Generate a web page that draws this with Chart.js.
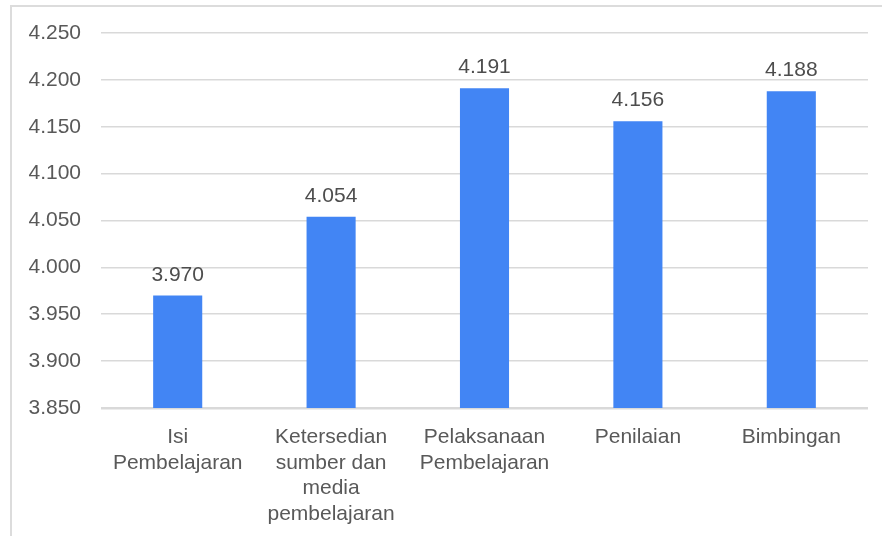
<!DOCTYPE html>
<html>
<head>
<meta charset="utf-8">
<script src="https://cdn.jsdelivr.net/npm/chart.js@4"></script>
<style>
  html, body { margin: 0; padding: 0; background: #fff; overflow: hidden; }
  #frame {
    position: absolute; left: 10px; top: 5px;
    width: 900px; height: 600px;
    border: 2px solid #dcdcdc;
  }
  #wrap { position: absolute; left: 0; top: 0; width: 882px; height: 536px; }
</style>
</head>
<body>
<div id="frame"></div>
<div id="wrap"><canvas id="chart" width="882" height="536"></canvas></div>
<script>
const categories = [
    ['Isi', 'Pembelajaran'],
    ['Ketersedian', 'sumber dan', 'media', 'pembelajaran'],
    ['Pelaksanaan', 'Pembelajaran'],
    ['Penilaian'],
    ['Bimbingan']
];
const scores = [3.970, 4.054, 4.191, 4.156, 4.188];
const yMin = 3.85;
const yMax = 4.25;
const yStep = 0.05;

const FONT = '"Liberation Sans", Arial, sans-serif';

// writes each bar's value just above it
const valueLabels = {
    id: 'valueLabels',
    afterDatasetsDraw(chart) {
        const ctx = chart.ctx;
        const meta = chart.getDatasetMeta(0);
        ctx.save();
        ctx.font = '21px ' + FONT;
        ctx.fillStyle = '#4d4d4d';
        ctx.textAlign = 'center';
        ctx.textBaseline = 'alphabetic';
        meta.data.forEach((bar, i) => {
            ctx.fillText(scores[i].toFixed(3), bar.x, bar.y - 15);
        });
        ctx.restore();
    }
};

new Chart(document.getElementById('chart'), {
    type: 'bar',
    data: {
        labels: categories,
        datasets: [{
            data: scores,
            backgroundColor: '#4285f4',
            barPercentage: 0.32,
            categoryPercentage: 1
        }]
    },
    options: {
        responsive: false,
        animation: false,
        layout: { padding: { top: 33, right: 14, left: 0, bottom: 0 } },
        plugins: {
            legend: { display: false },
            tooltip: { enabled: false }
        },
        scales: {
            x: {
                grid: { display: false, drawTicks: false },
                border: { display: false },
                ticks: {
                    color: '#595959',
                    padding: 16,
                    maxRotation: 0,
                    autoSkip: false,
                    font: { family: FONT, size: 21, lineHeight: 1.23 }
                },
                afterFit(scale) { scale.height = 128; }
            },
            y: {
                min: yMin,
                max: yMax,
                grid: {
                    color: '#d9d9d9',
                    drawTicks: false,
                    lineWidth: c => (c.index === 0 ? 2.5 : 1.5)
                },
                border: { display: false },
                ticks: {
                    stepSize: yStep,
                    color: '#595959',
                    padding: 20,
                    font: { family: FONT, size: 21 },
                    callback: v => v.toFixed(3)
                },
                afterFit(scale) { scale.width = 101; }
            }
        }
    },
    plugins: [valueLabels]
});
</script>
</body>
</html>
